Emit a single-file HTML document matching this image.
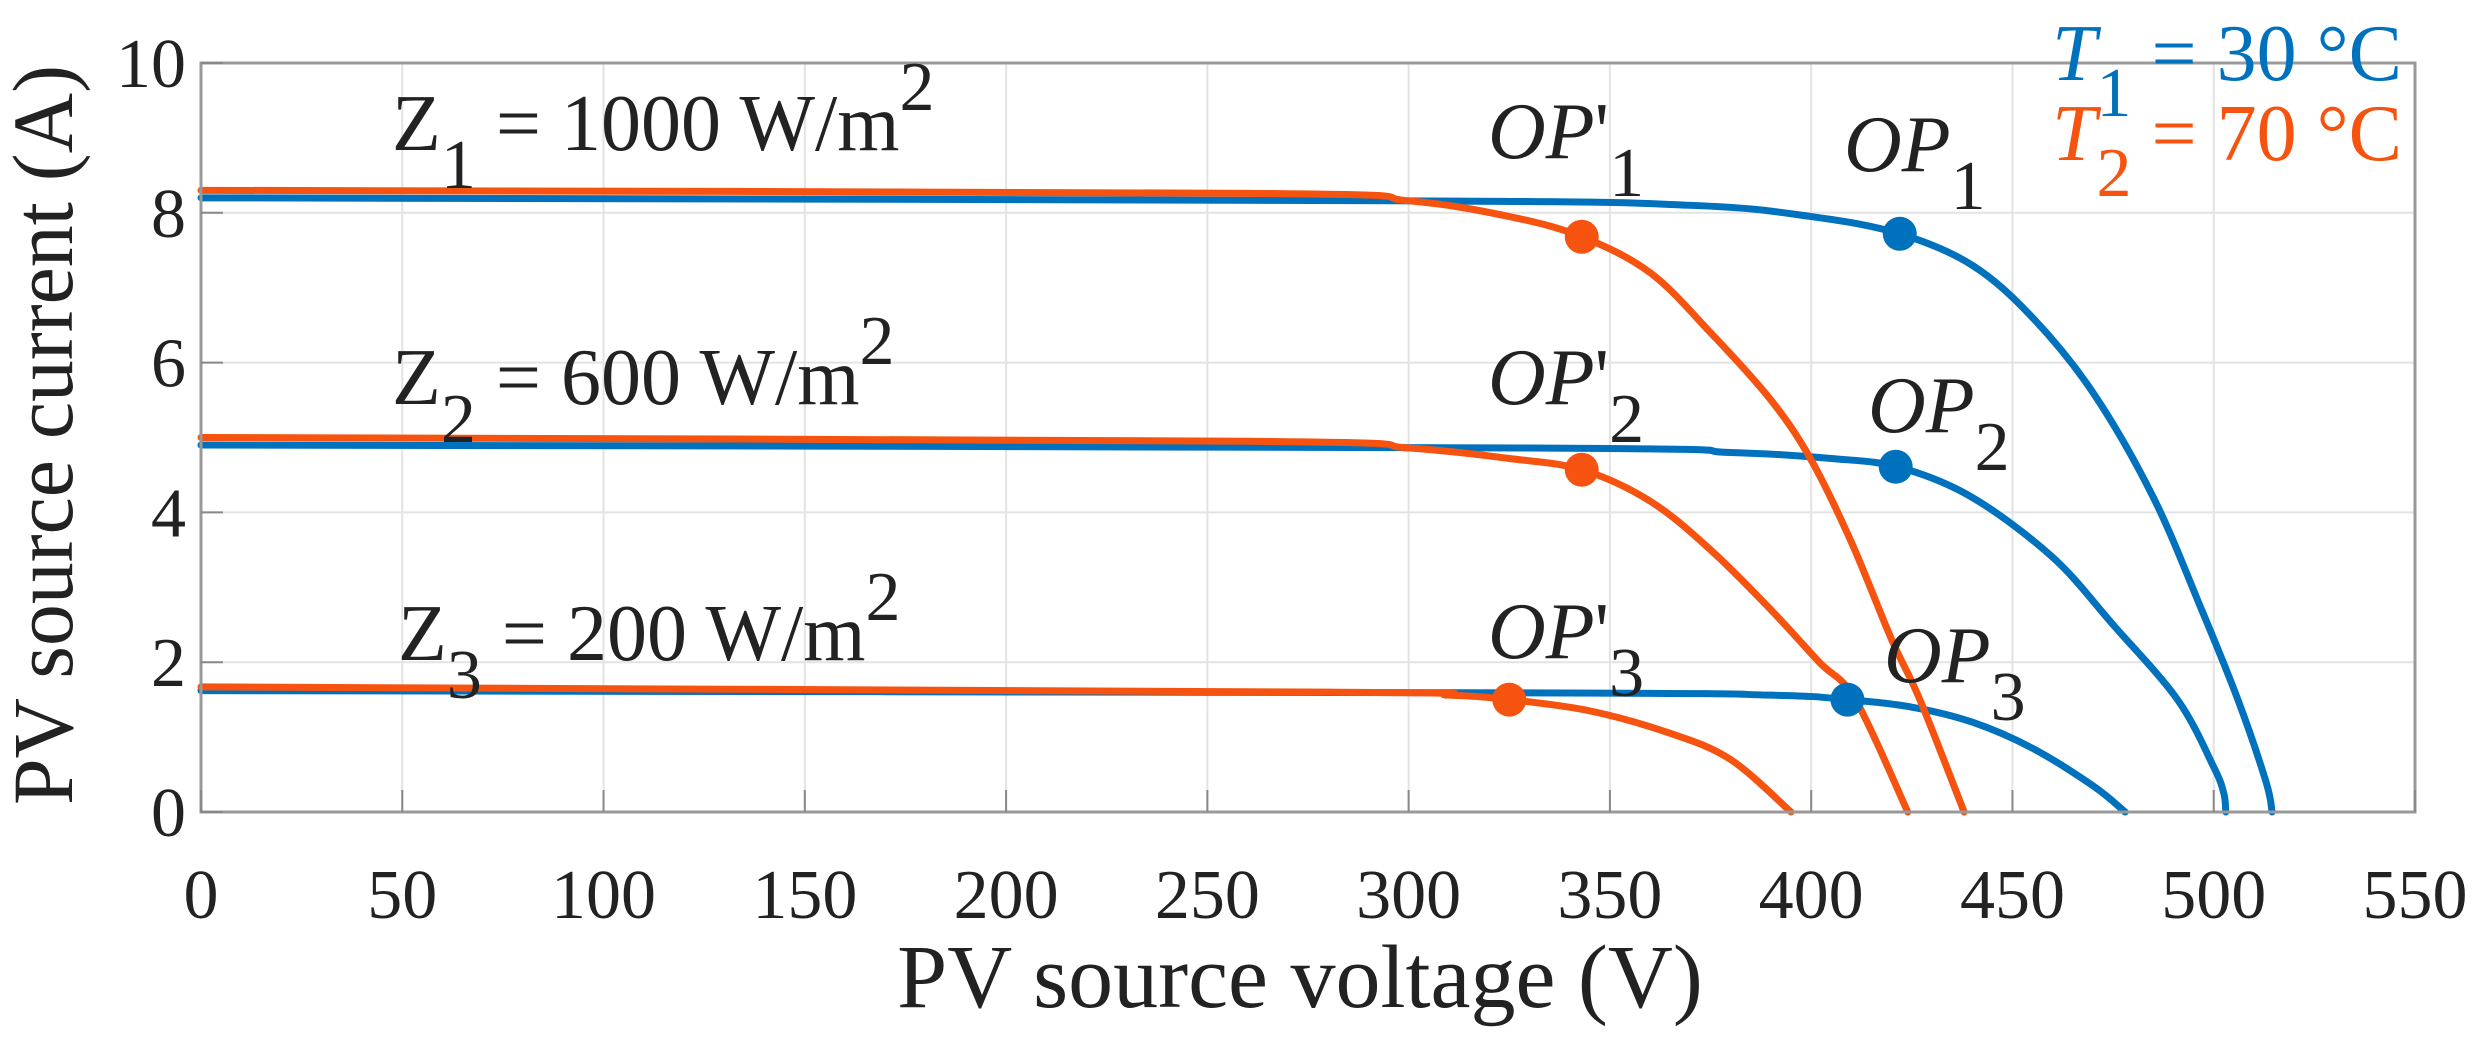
<!DOCTYPE html>
<html><head><meta charset="utf-8"><style>
html,body{margin:0;padding:0;background:#fff;}
svg{display:block;}
text{font-family:"Liberation Serif",serif;fill:#222;}
</style></head><body>
<svg id="s" width="2486" height="1041" viewBox="0 0 2486 1041" xmlns="http://www.w3.org/2000/svg">
<g id="grid" stroke="#e3e3e3" stroke-width="2"></g>
<g id="curves" fill="none" stroke-width="7" stroke-linejoin="round" stroke-linecap="round"></g>
<rect x="201" y="63" width="2214" height="749" fill="none" stroke="#999" stroke-width="3"/>
<g id="ticks" stroke="#888" stroke-width="2"></g>
<g id="tl" font-size="70"></g>
<g id="dots"></g>
<text x="1300" y="1007" font-size="90" text-anchor="middle">PV source voltage (V)</text>
<text transform="translate(72,435) rotate(-90)" font-size="86" text-anchor="middle" textLength="740" lengthAdjust="spacingAndGlyphs">PV source current (A)</text>
<g font-size="80">
<text x="392" y="150">Z<tspan dy="38" font-size="70">1</tspan><tspan dy="-38"> = 1000 W/m</tspan><tspan dy="-40" font-size="70">2</tspan></text>
<text x="392" y="404">Z<tspan dy="38" font-size="70">2</tspan><tspan dy="-38"> = 600 W/m</tspan><tspan dy="-40" font-size="70">2</tspan></text>
<text x="398" y="660">Z<tspan dy="38" font-size="70">3</tspan><tspan dy="-38"> = 200 W/m</tspan><tspan dy="-40" font-size="70">2</tspan></text>
<text x="1488" y="158"><tspan font-style="italic">OP</tspan>'<tspan dy="38" font-size="70">1</tspan></text>
<text x="1844" y="171"><tspan font-style="italic">OP</tspan><tspan dy="38" font-size="70">1</tspan></text>
<text x="1488" y="404"><tspan font-style="italic">OP</tspan>'<tspan dy="38" font-size="70">2</tspan></text>
<text x="1868" y="432"><tspan font-style="italic">OP</tspan><tspan dy="38" font-size="70">2</tspan></text>
<text x="1488" y="658"><tspan font-style="italic">OP</tspan>'<tspan dy="38" font-size="70">3</tspan></text>
<text x="1884" y="682"><tspan font-style="italic">OP</tspan><tspan dy="38" font-size="70">3</tspan></text>
<text x="2052" y="80" style="fill:#0072BD"><tspan font-style="italic">T</tspan><tspan dy="36" font-size="70">1</tspan><tspan dy="-36"> = 30 °C</tspan></text>
<text x="2052" y="160" style="fill:#F5530F"><tspan font-style="italic">T</tspan><tspan dy="36" font-size="70">2</tspan><tspan dy="-36"> = 70 °C</tspan></text>
</g>
</svg>
<script>
const X=v=>201+v*2214/550, Y=i=>812-i*74.9;
const ns="http://www.w3.org/2000/svg";
function el(p,t,a,txt){const e=document.createElementNS(ns,t);for(const k in a)e.setAttribute(k,a[k]);if(txt!==undefined)e.textContent=txt;document.getElementById(p).appendChild(e);}
for(let v=50;v<550;v+=50)el("grid","line",{x1:X(v),x2:X(v),y1:63,y2:812});
for(let i=2;i<10;i+=2)el("grid","line",{x1:201,x2:2415,y1:Y(i),y2:Y(i)});
for(let v=0;v<=550;v+=50){el("ticks","line",{x1:X(v),x2:X(v),y1:812,y2:790});el("tl","text",{x:X(v),y:918,"text-anchor":"middle"},String(v));}
for(let i=0;i<=10;i+=2){el("ticks","line",{x1:201,x2:223,y1:Y(i),y2:Y(i)});el("tl","text",{x:186,y:Y(i)+24,"text-anchor":"end"},String(i));}
const B="#0072BD",O="#F5530F";
const C=[
[B,[[0,8.2],[300,8.16],[370,8.1],[400,7.95],[422,7.72],[440,7.3],[455,6.6],[470,5.6],[485,4.2],[497,2.7],[506,1.5],[513,0.4],[514.5,0]]],
[B,[[0,4.9],[330,4.86],[380,4.8],[405,4.72],[422,4.6],[440,4.2],[460,3.4],[475,2.5],[491,1.5],[500,0.6],[502.5,0.25],[503,0]]],
[B,[[0,1.62],[330,1.59],[390,1.56],[409,1.5],[425,1.4],[440,1.2],[455,0.85],[470,0.35],[478,0]]],
[O,[[0,8.3],[260,8.26],[300,8.16],[325,7.95],[343,7.68],[360,7.2],[375,6.4],[390,5.5],[400,4.7],[410,3.6],[420,2.3],[427,1.5],[438,0]]],
[O,[[0,5.0],[260,4.95],[300,4.86],[325,4.72],[343,4.57],[360,4.15],[375,3.5],[390,2.7],[402,2.0],[411,1.5],[424,0]]],
[O,[[0,1.67],[280,1.6],[310,1.56],[325,1.5],[345,1.35],[365,1.05],[380,0.7],[395,0]]]];
function path(p){const q=p.map(a=>[X(a[0]),Y(a[1])]);let d="M"+q[0][0]+","+q[0][1];
for(let k=0;k<q.length-1;k++){const p0=q[k-1]||q[k],p1=q[k],p2=q[k+1],p3=q[k+2]||p2;
d+=` C${p1[0]+(p2[0]-p0[0])/6},${p1[1]+(p2[1]-p0[1])/6} ${p2[0]-(p3[0]-p1[0])/6},${p2[1]-(p3[1]-p1[1])/6} ${p2[0]},${p2[1]}`;}return d;}
C.forEach(c=>el("curves","path",{d:path(c[1]),stroke:c[0]}));
[[B,422,7.72],[B,421,4.61],[B,409,1.5],[O,343,7.68],[O,343,4.57],[O,325,1.5]].forEach(d=>el("dots","circle",{cx:X(d[1]),cy:Y(d[2]),r:17,fill:d[0]}));
</script>
</body></html>
